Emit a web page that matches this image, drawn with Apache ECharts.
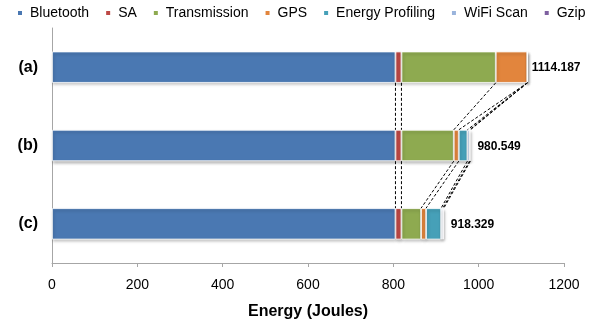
<!DOCTYPE html>
<html>
<head>
<meta charset="utf-8">
<style>html,body{margin:0;padding:0;background:#fff}#c{width:595px;height:325px}</style>
<script src="https://cdn.jsdelivr.net/npm/echarts@6/dist/echarts.min.js"></script>
</head>
<body>
<div id="c"></div>
<script>
const categories = ['(a)', '(b)', '(c)'];
const seriesNames = ['Bluetooth', 'SA', 'Transmission', 'GPS', 'Energy Profiling', 'WiFi Scan', 'Gzip'];
const bluetooth = [805, 805, 805];
const sa = [14, 14, 14];
const transmission = [221, 122.6, 46];
const gps = [74.2, 11.7, 11.7];
const energyProfiling = [0, 20.3, 35.2];
const wifiScan = [0, 5, 4];
const gzip = [0, 2, 2.4];
const totals = ['1114.187', '980.549', '918.329'];
const xTicks = [0, 200, 400, 600, 800, 1000, 1200];

const colors = ['#4A78B2', '#BD4845', '#8EAA50', '#E2853D', '#46A0B8', '#9AB4DC', '#7E60A0'];
const seriesData = [bluetooth, sa, transmission, gps, energyProfiling, wifiScan, gzip];
const FONT = '"Liberation Sans", Arial, sans-serif';

// cumulative boundaries per category
const cum = categories.map((_, i) => {
  let s = 0; const arr = [];
  seriesData.forEach(d => { s += d[i]; arr.push(s); });
  return arr;
});
const connectors = [];
for (let i = 0; i < categories.length - 1; i++) {
  for (let k = 0; k < seriesData.length; k++) {
    connectors.push([cum[i][k], cum[i + 1][k], i]);
  }
}

const barSeries = seriesNames.map((name, k) => ({
  name: name,
  type: 'bar',
  stack: 'total',
  barWidth: '40%',
  data: seriesData[k],
  itemStyle: {
    color: colors[k],
    borderColor: '#ffffff',
    borderWidth: 0.8,
    shadowColor: 'rgba(0,0,0,0.28)',
    shadowBlur: 3,
    shadowOffsetX: 1,
    shadowOffsetY: 2
  },
  label: k === seriesNames.length - 1 ? {
    show: true,
    position: 'right',
    distance: 7,
    formatter: p => totals[p.dataIndex],
    fontFamily: FONT,
    fontWeight: 'bold',
    fontSize: 12,
    color: '#000'
  } : { show: false },
  labelLayout: k === seriesNames.length - 1 ? (p => (p.dataIndex === 0 ? { dx: -3, dy: 1 } : { dy: 1 })) : undefined,
  emphasis: { disabled: true }
}));

const chart = echarts.init(document.getElementById('c'), null, { renderer: 'canvas' });
chart.setOption({
  animation: false,
  color: colors,
  legend: {
    data: seriesNames,
    left: 16,
    top: 6,
    width: 579,
    padding: 0,
    itemWidth: 6,
    itemHeight: 6,
    itemGap: 15,
    icon: 'rect',
    textStyle: {
      fontFamily: FONT,
      fontSize: 14,
      color: '#000',
      padding: [0, 0, 0, 2]
    }
  },
  grid: { left: 52, right: 31, top: 28, bottom: 62, containLabel: false, outerBoundsMode: 'none' },
  xAxis: {
    type: 'value',
    min: 0,
    max: 1200,
    interval: 200,
    name: 'Energy (Joules)',
    nameLocation: 'middle',
    nameGap: 41,
    nameTextStyle: {
      fontFamily: FONT,
      fontWeight: 'bold',
      fontSize: 16,
      color: '#000'
    },
    axisLine: { show: true, lineStyle: { color: '#A6A6A6', width: 1 } },
    axisTick: { show: true, length: 4, lineStyle: { color: '#A6A6A6' } },
    splitLine: { show: false },
    axisLabel: {
      margin: 15,
      fontFamily: FONT,
      fontSize: 14,
      color: '#000',
      formatter: v => xTicks.includes(v) ? String(v) : ''
    }
  },
  yAxis: {
    type: 'category',
    data: categories,
    inverse: true,
    axisLine: { show: true, lineStyle: { color: '#A6A6A6', width: 1 } },
    axisTick: { show: false },
    axisLabel: {
      margin: 14,
      fontFamily: FONT,
      fontWeight: 'bold',
      fontSize: 16,
      color: '#000'
    }
  },
  series: barSeries.concat([{
    type: 'custom',
    name: 'connectors',
    z: 5,
    silent: true,
    encode: { x: [0, 1], y: 2 },
    data: connectors,
    renderItem: function (params, api) {
      const i = api.value(2);
      const p1 = api.coord([api.value(0), i]);
      const p2 = api.coord([api.value(1), i + 1]);
      const h = api.size([0, 1])[1] * 0.4 / 2;
      return {
        type: 'line',
        shape: { x1: p1[0], y1: p1[1] + h, x2: p2[0], y2: p2[1] - h },
        style: { stroke: '#000', lineWidth: 1, lineDash: [3, 2] }
      };
    }
  }])
});
</script>
</body>
</html>
